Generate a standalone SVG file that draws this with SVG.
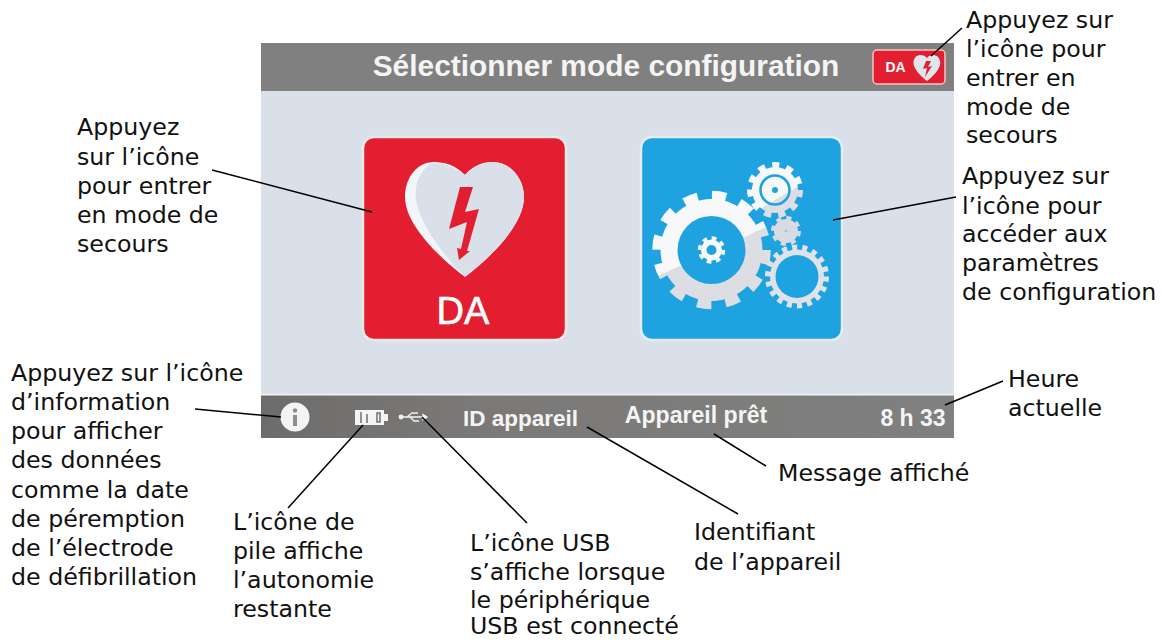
<svg xmlns="http://www.w3.org/2000/svg" width="1170" height="640" viewBox="0 0 1170 640">
<style>
.c{font-family:"DejaVu Sans",Verdana,sans-serif;font-size:23.7px;fill:#111}
.h{font-family:"Liberation Sans",Arial,sans-serif;font-weight:700;fill:#f4f4f4}
.l{stroke:#000;stroke-width:1.5;fill:none}
</style>
<defs>
<linearGradient id="bar" x1="0" x2="1" y1="0" y2="0"><stop offset="0" stop-color="#6e6c6b"/><stop offset="0.3" stop-color="#7a7977"/><stop offset="1" stop-color="#808080"/></linearGradient>
<linearGradient id="g1" gradientUnits="userSpaceOnUse" x1="687.500" y1="200" x2="734.500" y2="304"><stop offset="0.5" stop-color="#f6f8fa"/><stop offset="0.5" stop-color="#dcdee4"/></linearGradient>
<linearGradient id="g2" gradientUnits="userSpaceOnUse" x1="760" y1="165" x2="790" y2="215"><stop offset="0.65" stop-color="#f6f8fa"/><stop offset="0.65" stop-color="#dcdee4"/></linearGradient>
<path id="heart" d="M0 0C-10-10-20-13-31-13C-48-13-60 3-60 22C-60 50-25 83 0 102C25 83 59 50 59 22C59 3 45-13 28-13C17-13 8-9 0 0Z"/>
</defs>
<g id="screen">
<rect x="261" y="43" width="693" height="395" fill="#d9e0e9"/>
<rect x="261" y="43" width="693" height="48" fill="#808080"/>
<rect x="261" y="395" width="693" height="43" fill="url(#bar)"/>
<rect x="261" y="394" width="693" height="1.500" fill="#f2f4f6"/>
<text class="h" x="606" y="76" font-size="29.900" text-anchor="middle">Sélectionner mode configuration</text>
</g>
<g id="da-mini">
<rect x="873" y="50" width="72" height="34" rx="4" fill="#e11f30" stroke="#f0c6bf" stroke-width="1.500"/>
<text class="h" x="895.500" y="72" font-size="14" text-anchor="middle" style="fill:#fff">DA</text>
<use href="#heart" transform="translate(927 58) scale(.225)" fill="#dfe6ec"/>
<path d="M926 61L923 69L927 68L925 77L932 66L928 67L931 61Z" fill="#e11f30"/>
</g>
<g id="da-button">
<rect x="363" y="137" width="203" height="203" rx="11" fill="#e31e30" stroke="#eee9e2" stroke-width="2.500"/>
<path d="M465 175C455 165 445 162 434 162C417 162 405 178 405 197C405 225 440 258 465 277C490 258 524 225 524 197C524 178 510 162 493 162C482 162 473 166 465 175Z" fill="#f2f6f7"/>
<path d="M465 175C455 168 447 163 432 163C420 170 414 184 416 200C420 225 445 258 465 276C490 258 524 225 524 197C524 178 510 162 493 162C482 162 473 166 465 175Z" fill="#d9e0e9"/>
<path d="M460 187L473 187L465 212L479 209L467 251L470 251L459 260L457 248L461 249L467 222L449 229Z" fill="#e31e30"/>
<text class="h" x="463" y="324" font-size="38" style="font-weight:400;fill:#fff;stroke:#fff;stroke-width:.6" text-anchor="middle">DA</text>
</g>
<g id="config-button">
<rect x="641" y="137" width="201" height="203" rx="11" fill="#1fa2e0" stroke="#e3edf3" stroke-width="2.500"/>
<circle cx="711.500" cy="250" r="51" fill="url(#g1)"/>
<circle cx="711.500" cy="250" r="54.500" fill="none" stroke="url(#g1)" stroke-width="9.500" stroke-dasharray="14.270 14.270"/>
<circle cx="711.500" cy="250" r="34" fill="#1fa2e0"/>
<circle cx="711.500" cy="250" r="10.500" fill="#f6f8fa"/>
<circle cx="711.500" cy="250" r="12" fill="none" stroke="#f6f8fa" stroke-width="3.500" stroke-dasharray="4.700 4.700"/>
<circle cx="711.500" cy="250" r="5" fill="#1fa2e0"/>
<circle cx="775" cy="190" r="23" fill="url(#g2)"/>
<circle cx="775" cy="190" r="25" fill="none" stroke="url(#g2)" stroke-width="6" stroke-dasharray="7.140 7.140"/>
<circle cx="775" cy="190" r="14.500" fill="none" stroke="#1fa2e0" stroke-width="2.500"/>
<circle cx="775" cy="190" r="3" fill="#1fa2e0"/>
<circle cx="786" cy="231" r="12" fill="#d8dbe2"/>
<circle cx="786" cy="231" r="13" fill="none" stroke="#d8dbe2" stroke-width="4" stroke-dasharray="5.100 5.100"/>
<circle cx="786" cy="231" r="1.500" fill="#a9c4d8"/>
<circle cx="797" cy="276.500" r="27" fill="#dfe2e8"/>
<circle cx="797" cy="276.500" r="29" fill="none" stroke="#dfe2e8" stroke-width="6" stroke-dasharray="5.060 5.060"/>
<circle cx="797" cy="276.500" r="21.500" fill="#1fa2e0"/>
</g>
<g id="status-bar">
<circle cx="295" cy="417" r="14.500" fill="#f4f4f4"/>
<rect x="293" y="415" width="4" height="11" fill="#8d8d8d"/>
<circle cx="295" cy="410.500" r="2.200" fill="#8d8d8d"/>
<rect x="355" y="410" width="29" height="15" fill="#f4f4f4"/>
<rect x="384" y="414" width="4" height="7" fill="#f4f4f4"/>
<path d="M361 412V423M367 414V423M377 413h3v9h-3z" stroke="#716f6e" stroke-width="1.500" fill="none"/>
<g stroke="#f4f4f4" stroke-width="1.300" fill="#f4f4f4">
<path d="M402 417H423M407 417L412 413H418M410 417L414 421H419" fill="none"/>
<circle cx="401" cy="417" r="1.800"/><path d="M423 414.500L427 417L423 419.500Z"/>
</g>
<text class="h" x="520.500" y="426" font-size="22.500" text-anchor="middle">ID appareil</text>
<text class="h" x="696" y="423" font-size="23.100" text-anchor="middle">Appareil prêt</text>
<text class="h" x="913" y="426" font-size="23" text-anchor="middle">8 h 33</text>
</g>
<g id="connectors">
<path class="l" d="M212 170L372 212"/>
<path class="l" d="M962 28L931 56"/>
<path class="l" d="M956 197L833 220"/>
<path class="l" d="M195 409L281 417"/>
<path class="l" d="M288 508L363 425"/>
<path class="l" d="M422 417L527 523"/>
<path class="l" d="M587 427L738 514"/>
<path class="l" d="M714 434L766 466"/>
<path class="l" d="M945 405L1003 381"/>
</g>
<g id="note-sos-top"><text class="c" x="966" y="28">Appuyez sur</text><text class="c" x="966" y="57">l’icône pour</text><text class="c" x="966" y="86">entrer en</text><text class="c" x="966" y="115">mode de</text><text class="c" x="966" y="143">secours</text></g>
<g id="note-sos"><text class="c" x="77" y="135">Appuyez</text><text class="c" x="77" y="165">sur l’icône</text><text class="c" x="77" y="194">pour entrer</text><text class="c" x="77" y="223">en mode de</text><text class="c" x="77" y="252">secours</text></g>
<g id="note-config"><text class="c" x="962" y="184">Appuyez sur</text><text class="c" x="962" y="214">l’icône pour</text><text class="c" x="962" y="242">accéder aux</text><text class="c" x="962" y="271">paramètres</text><text class="c" x="962" y="300">de configuration</text></g>
<g id="note-info"><text class="c" x="11" y="381">Appuyez sur l’icône</text><text class="c" x="11" y="410">d’information</text><text class="c" x="11" y="439">pour afficher</text><text class="c" x="11" y="468">des données</text><text class="c" x="11" y="498">comme la date</text><text class="c" x="11" y="527">de péremption</text><text class="c" x="11" y="556">de l’électrode</text><text class="c" x="11" y="585">de défibrillation</text></g>
<g id="note-battery"><text class="c" x="233" y="530">L’icône de</text><text class="c" x="233" y="559">pile affiche</text><text class="c" x="233" y="588">l’autonomie</text><text class="c" x="233" y="617">restante</text></g>
<g id="note-usb"><text class="c" x="470" y="551">L’icône USB</text><text class="c" x="470" y="580">s’affiche lorsque</text><text class="c" x="470" y="608">le périphérique</text><text class="c" x="470" y="634">USB est connecté</text></g>
<g id="note-id"><text class="c" x="694" y="540">Identifiant</text><text class="c" x="694" y="570">de l’appareil</text></g>
<g id="note-message"><text class="c" x="778" y="481">Message affiché</text></g>
<g id="note-heure"><text class="c" x="1008" y="387">Heure</text><text class="c" x="1008" y="416">actuelle</text></g>
</svg>
